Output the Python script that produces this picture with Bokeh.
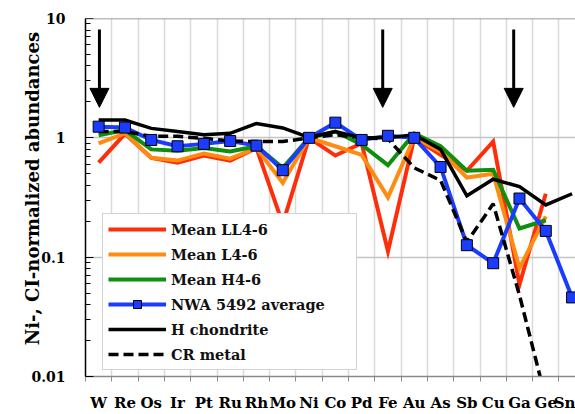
import math
from bokeh.plotting import figure
from bokeh.models import (Range1d, FixedTicker, Legend, LegendItem, Arrow, NormalHead,
                          Span, Label)
from bokeh.embed import file_html
from bokeh.resources import INLINE

elements = ["W", "Re", "Os", "Ir", "Pt", "Ru", "Rh", "Mo", "Ni", "Co", "Pd",
            "Fe", "Au", "As", "Sb", "Cu", "Ga", "Ge", "Sn"]

mean_ll = [0.62, 1.08, 0.68, 0.62, 0.71, 0.645, 0.82, 0.19, 1.0, 0.71, 0.90,
           0.112, 1.0, 0.72, 0.53, 0.93, 0.059, 0.34, None]
mean_l = [0.90, 1.09, 0.68, 0.645, 0.74, 0.67, 0.82, 0.42, 1.0, 0.85, 0.72,
          0.317, 1.01, 0.77, 0.465, 0.50, 0.081, 0.22, None]
mean_h = [1.05, 1.16, 0.80, 0.78, 0.82, 0.77, 0.85, 0.56, 1.0, 1.13, 0.875,
          0.59, 1.09, 0.85, 0.53, 0.54, 0.174, 0.204, None]
nwa5492 = [1.24, 1.22, 0.96, 0.85, 0.89, 0.94, 0.86, 0.535, 1.0, 1.34, 0.96,
           1.04, 1.0, 0.57, 0.126, 0.089, 0.31, 0.166, 0.046]
h_chondrite = [1.41, 1.41, 1.2, 1.13, 1.06, 1.09, 1.32, 1.21, 1.01, 1.13, 1.0,
               1.0, 1.06, 0.80, 0.327, 0.45, 0.39, 0.274, 0.34]
cr_metal = [1.13, 1.13, 1.03, 1.03, 0.99, 0.94, 0.93, 0.93, 1.0, 1.06, 1.0,
            0.98, 0.56, 0.44, 0.134, 0.28, 0.048, 0.0065, None]

y_tick_values = [0.01, 0.1, 1, 10]
y_tick_labels = ["0.01", "0.1", "1", "10"]
y_title = "Ni-, CI-normalized abundances"

# arrows marking W, Fe and Ga (x position in category units, top and tip values)
arrow_x = [0.03, 10.8, 15.78]
arrow_top = 8.1
arrow_tip = 1.8


def clean(vals):
    return [float("nan") if v is None else v for v in vals]


FONT = "DejaVu Serif"
xs = list(range(len(elements)))
boundaries = [i - 0.5 for i in range(len(elements) + 1)]

p = figure(width=575, height=414, output_backend="svg", toolbar_location=None,
           x_range=Range1d(-0.5, 18.13), y_range=Range1d(0.01, 10),
           y_axis_type="log",
           min_border_left=85, min_border_right=0, min_border_top=18,
           min_border_bottom=34)
p.outline_line_color = None
p.background_fill_color = "white"

# grids
p.xgrid.ticker = FixedTicker(ticks=boundaries)
p.xgrid.grid_line_color = "#dadada"
p.xgrid.grid_line_width = 1.5

minor_y = [m * 10.0 ** e for e in (-2, -1, 0) for m in range(2, 10)]
p.yaxis.ticker = FixedTicker(ticks=y_tick_values, minor_ticks=minor_y)
p.ygrid.ticker = FixedTicker(ticks=y_tick_values)
p.ygrid.grid_line_color = "#c4c4c4"
p.ygrid.grid_line_width = 1.5

p.add_layout(Span(location=10, dimension="width", line_color="#7a7a7a", line_width=1.5))

# x axis
p.xaxis.ticker = FixedTicker(ticks=xs, minor_ticks=boundaries)
p.xaxis.major_label_overrides = {i: e for i, e in zip(xs, elements)}
p.xaxis.major_tick_out = 0
p.xaxis.major_tick_in = 0
p.xaxis.minor_tick_out = 5
p.xaxis.minor_tick_in = 0
p.xaxis.minor_tick_line_color = "#8a8a8a"
p.xaxis.axis_line_color = "#8a8a8a"
p.xaxis.axis_line_width = 1.5
p.xaxis.major_label_standoff = 12
p.xaxis.major_label_text_font = FONT
p.xaxis.major_label_text_font_style = "bold"
p.xaxis.major_label_text_font_size = "15px"
p.xaxis.major_label_text_color = "black"

# y axis
p.yaxis.major_label_overrides = {v: t for v, t in zip(y_tick_values, y_tick_labels)}
p.yaxis.axis_line_color = "black"
p.yaxis.axis_line_width = 1.5
p.yaxis.major_tick_in = 8
p.yaxis.major_tick_out = 0
p.yaxis.minor_tick_in = 5
p.yaxis.minor_tick_out = 0
p.yaxis.major_tick_line_color = "black"
p.yaxis.minor_tick_line_color = "black"
p.yaxis.major_label_standoff = 20
p.yaxis.major_label_text_font = FONT
p.yaxis.major_label_text_font_style = "bold"
p.yaxis.major_label_text_font_size = "14px"
p.yaxis.major_label_text_color = "black"

# y-axis title: rotated label in the left side panel (positioned with the plot scales)
p.add_layout(Label(x=-2.515, y=0.376, text=y_title, angle=math.pi / 2,
                   text_align="center", text_baseline="middle",
                   text_font=FONT, text_font_style="bold", text_font_size="18px",
                   text_color="black"), "left")

# series
r_ll = p.line(xs, clean(mean_ll), line_color="#ff2e0a", line_width=4, line_join="miter")
r_l = p.line(xs, clean(mean_l), line_color="#ff8c10", line_width=4, line_join="miter")
r_h = p.line(xs, clean(mean_h), line_color="#0e8f0e", line_width=4, line_join="miter")
r_nwa = p.line(xs, clean(nwa5492), line_color="#1a3cff", line_width=4, line_join="miter")
r_hc = p.line(xs, clean(h_chondrite), line_color="black", line_width=3.5, line_join="miter")
r_cr = p.line(xs, clean(cr_metal), line_color="black", line_width=3.5, line_dash="10 5")
r_nwa_pts = p.scatter(xs, clean(nwa5492), marker="square", size=11,
                      fill_color="#1a3cff", line_color="black", line_width=1)

# arrows
for ax in arrow_x:
    p.add_layout(Arrow(x_start=ax, y_start=arrow_top, x_end=ax, y_end=arrow_tip,
                       line_color="black", line_width=3,
                       end=NormalHead(size=19, fill_color="black", line_color="black",
                                      line_width=1)))

legend = Legend(items=[
    LegendItem(label="Mean LL4-6", renderers=[r_ll]),
    LegendItem(label="Mean L4-6", renderers=[r_l]),
    LegendItem(label="Mean H4-6", renderers=[r_h]),
    LegendItem(label="NWA 5492 average", renderers=[r_nwa, r_nwa_pts]),
    LegendItem(label="H chondrite", renderers=[r_hc]),
    LegendItem(label="CR metal", renderers=[r_cr]),
], location=(17, 6))
legend.padding = 5
legend.spacing = 5
legend.margin = 0
legend.label_height = 20
legend.glyph_height = 20
legend.glyph_width = 58
legend.label_standoff = 5
legend.label_width = 180
legend.label_text_font = FONT
legend.label_text_font_style = "bold"
legend.label_text_font_size = "14.5px"
legend.label_text_color = "#111111"
legend.border_line_color = "#a6a6a6"
legend.border_line_width = 1.5
legend.background_fill_color = "white"
legend.background_fill_alpha = 1.0
legend.level = "underlay"
p.add_layout(legend)

open("out.html", "w").write(file_html(p, INLINE))
